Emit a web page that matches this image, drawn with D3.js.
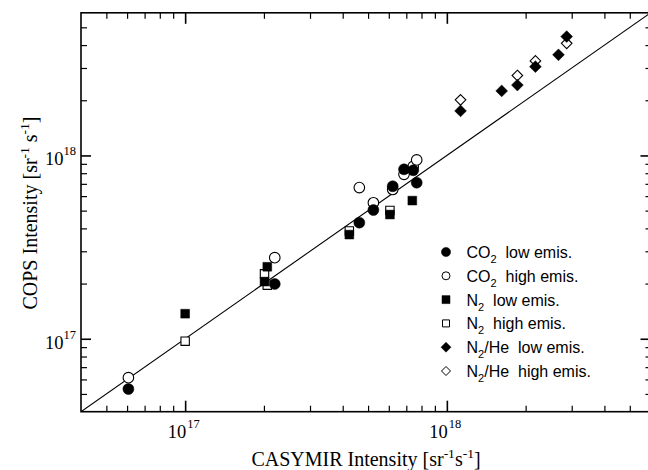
<!DOCTYPE html>
<html><head><meta charset="utf-8">
<script src="https://cdn.jsdelivr.net/npm/d3@7"></script>
<style>body{margin:0;background:#fff} svg{display:block}</style>
</head><body><svg id="c" width="648" height="470"></svg>
<script>
// CASYMIR intensity (x) vs COPS intensity (y), sr^-1 s^-1
const co2Low = [[6.07e16,5.32e16],[2.20e17,1.99e17],[4.63e17,4.30e17],[5.24e17,5.04e17],[6.21e17,6.79e17],[6.86e17,8.40e17],[7.44e17,8.30e17],[7.67e17,7.10e17]];
const co2High = [[6.07e16,6.13e16],[2.20e17,2.77e17],[4.63e17,6.68e17],[5.24e17,5.52e17],[6.21e17,6.52e17],[6.86e17,7.89e17],[7.44e17,8.71e17],[7.67e17,9.45e17]];
const n2Low = [[1.0e17,1.37e17],[2.01e17,2.05e17],[2.06e17,2.47e17],[4.24e17,3.70e17],[6.06e17,4.76e17],[7.38e17,5.67e17]];
const n2High = [[1.0e17,9.7e16],[2.01e17,2.26e17],[2.06e17,1.96e17],[4.24e17,3.87e17],[6.06e17,5.01e17]];
const n2HeLow = [[1.128e18,1.75e18],[1.62e18,2.25e18],[1.86e18,2.42e18],[2.18e18,3.05e18],[2.67e18,3.54e18],[2.87e18,4.45e18]];
const n2HeHigh = [[1.128e18,2.01e18],[1.86e18,2.73e18],[2.18e18,3.28e18],[2.87e18,4.09e18]];
const domain = [4e16, 6e18];
const majorTicks = [1e17, 1e18];
const majorExp = ["17", "18"];
const minorTicks = [5e16,6e16,7e16,8e16,9e16,2e17,3e17,4e17,5e17,6e17,7e17,8e17,9e17,2e18,3e18,4e18,5e18];
const legendItems = [
  {base:"CO", sub:"2", rest:"  low emis.", shape:"circle", filled:true},
  {base:"CO", sub:"2", rest:"  high emis.", shape:"circle", filled:false},
  {base:"N", sub:"2", rest:"  low emis.", shape:"square", filled:true},
  {base:"N", sub:"2", rest:"  high emis.", shape:"square", filled:false},
  {base:"N", sub:"2", rest:"/He  low emis.", shape:"diamond", filled:true},
  {base:"N", sub:"2", rest:"/He  high emis.", shape:"diamond", filled:false}
];

const svg = d3.select("#c");
const L = 81, R = 650.5, T = 12.8, B = 411.7;
const x = d3.scaleLog().domain(domain).range([L, R]);
const y = d3.scaleLog().domain(domain).range([B, T]);
const serif = "'Liberation Serif','Times New Roman',serif";
const sans = "'Liberation Sans',Arial,sans-serif";

// frame
svg.append("rect").attr("x", L).attr("y", T).attr("width", R - L).attr("height", B - T)
  .attr("fill", "none").attr("stroke", "#000").attr("stroke-width", 1.6);

function axes(gen, tr, vals, size, sw) {
  const g = svg.append("g").attr("transform", tr)
    .call(gen.tickValues(vals).tickSize(size).tickFormat(""));
  g.select(".domain").remove();
  g.selectAll(".tick line").attr("stroke", "#000").attr("stroke-width", sw);
}
axes(d3.axisBottom(x), `translate(0,${B})`, minorTicks, -6, 1.2);
axes(d3.axisBottom(x), `translate(0,${B})`, majorTicks, -11, 1.6);
axes(d3.axisTop(x), `translate(0,${T})`, minorTicks, -6, 1.2);
axes(d3.axisTop(x), `translate(0,${T})`, majorTicks, -11, 1.6);
axes(d3.axisLeft(y), `translate(${L},0)`, minorTicks, -6, 1.2);
axes(d3.axisLeft(y), `translate(${L},0)`, majorTicks, -10, 1.6);
axes(d3.axisRight(y), `translate(${R},0)`, minorTicks, -5, 1.2);
axes(d3.axisRight(y), `translate(${R},0)`, majorTicks, -10, 1.6);

// tick labels
majorTicks.forEach((v, i) => {
  svg.append("text").attr("font-family", serif).attr("fill", "#000")
    .attr("x", x(v) + 1).attr("y", 438).attr("text-anchor", "end").attr("font-size", 18.5).text("10");
  svg.append("text").attr("font-family", serif).attr("fill", "#000")
    .attr("x", x(v) + 2).attr("y", 428).attr("font-size", 12.5).text(majorExp[i]);
  const ty = svg.append("text").attr("font-family", serif).attr("fill", "#000")
    .attr("x", 76).attr("y", y(v) + 10).attr("text-anchor", "end");
  ty.append("tspan").attr("font-size", 18.5).text("10");
  ty.append("tspan").attr("font-size", 12.5).attr("dy", -10).text(majorExp[i]);
});

// axis titles
function titleParts(t, parts) {
  parts.forEach(p => {
    const s = t.append("tspan").attr("font-size", p.sup ? 13.5 : 20).text(p.t);
    if (p.sup) s.attr("dy", -8); else if (p.back) s.attr("dy", 8);
  });
}
const xt = svg.append("text").attr("font-family", serif).attr("fill", "#000")
  .attr("x", 366).attr("y", 466).attr("text-anchor", "middle").style("white-space", "pre");
titleParts(xt, [{t:"CASYMIR Intensity [sr"},{t:"-1",sup:true},{t:"s",back:true},{t:"-1",sup:true},{t:"]",back:true}]);
const yt = svg.append("text").attr("font-family", serif).attr("fill", "#000")
  .attr("transform", "translate(37,213) rotate(-90)").attr("text-anchor", "middle").style("white-space", "pre");
titleParts(yt, [{t:"COPS Intensity [sr"},{t:"-1",sup:true},{t:" s",back:true},{t:"-1",sup:true},{t:"]",back:true}]);

// diagonal y = x
svg.append("clipPath").attr("id", "pc").append("rect")
  .attr("x", L).attr("y", T).attr("width", R - L).attr("height", B - T);
svg.append("line").attr("clip-path", "url(#pc)")
  .attr("x1", x(domain[0])).attr("y1", y(domain[0])).attr("x2", x(domain[1])).attr("y2", y(domain[1]))
  .attr("stroke", "#000").attr("stroke-width", 1.1);

function shapePath(shape, s) {
  if (shape === "circle") return `M${-s},0A${s},${s} 0 1,0 ${s},0A${s},${s} 0 1,0 ${-s},0Z`;
  if (shape === "square") return `M${-s},${-s}H${s}V${s}H${-s}Z`;
  return `M0,${-s}L${s},0L0,${s}L${-s},0Z`;
}
function draw(data, shape, filled, s) {
  svg.append("g").selectAll("path").data(data).join("path")
    .attr("transform", d => `translate(${x(d[0])},${y(d[1])})`)
    .attr("d", shapePath(shape, s))
    .attr("fill", filled ? "#000" : "#fff")
    .attr("stroke", "#000").attr("stroke-width", filled ? 0.5 : 1.1);
}
draw(co2High, "circle", false, 5.3);
draw(n2High, "square", false, 4.2);
draw(n2HeHigh, "diamond", false, 5.3);
draw(co2Low, "circle", true, 5.5);
draw(n2Low, "square", true, 4.4);
draw(n2HeLow, "diamond", true, 5.9);

// legend
const lg = svg.append("g");
legendItems.forEach((it, i) => {
  const cy = 252 + i * 23.8;
  const s = it.shape === "circle" ? (it.filled ? 4.6 : 4) : it.shape === "square" ? (it.filled ? 4 : 3.5) : (it.filled ? 5 : 4.5);
  lg.append("path").attr("transform", `translate(446,${cy})`).attr("d", shapePath(it.shape, s))
    .attr("fill", it.filled ? "#000" : "#fff").attr("stroke", "#000").attr("stroke-width", it.filled ? 0.5 : 1);
  const t = lg.append("text").attr("font-family", sans).attr("fill", "#000").attr("font-size", 16)
    .attr("x", 466.5).attr("y", cy + 6).style("white-space", "pre");
  t.append("tspan").text(it.base);
  t.append("tspan").attr("font-size", 11).attr("dy", 5).text(it.sub);
  t.append("tspan").attr("dy", -5).text(it.rest);
});
</script></body></html>
